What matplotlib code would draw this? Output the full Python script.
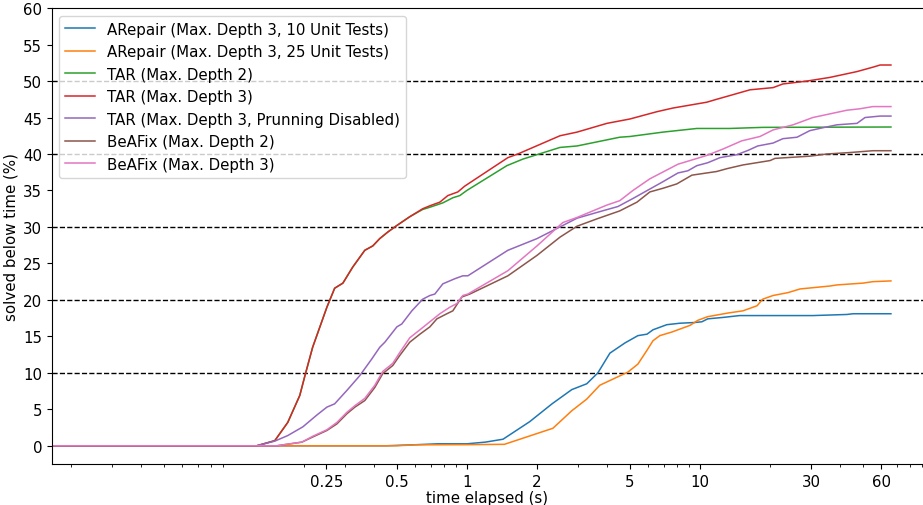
import numpy as np
import matplotlib.pyplot as plt

# time (s) / solved below time (%) for each configuration
x_start = 0.0166

arepair10_t = [x_start, 0.45, 0.6, 0.75, 1.0, 1.2, 1.43, 1.86, 2.32, 2.82, 3.27, 3.65, 4.11, 4.77,
               5.42, 5.93, 6.29, 7.21, 8.20, 9.52, 10.2, 10.8, 12.6, 14.8, 30.5, 42.7, 45.4, 54.7, 66]
arepair10_v = [0, 0, 0.14, 0.27, 0.27, 0.5, 0.9, 3.3, 5.75, 7.7, 8.5, 10.0, 12.7, 14.1,
               15.1, 15.3, 15.9, 16.6, 16.8, 16.9, 17.0, 17.4, 17.6, 17.85, 17.85, 18.0, 18.1, 18.1, 18.1]

arepair25_t = [x_start, 0.5, 0.6, 1.0, 1.45, 2.34, 2.82, 3.27, 3.72, 4.91, 5.42, 5.93, 6.29, 6.73,
               7.59, 8.37, 9.06, 9.80, 10.8, 13.2, 15.3, 17.6, 18.6, 20.6, 23.9, 26.9, 36.1, 38.7,
               50.1, 55.2, 66]
arepair25_v = [0, 0, 0.13, 0.15, 0.2, 2.4, 4.8, 6.4, 8.3, 10.1, 11.2, 13.1, 14.4, 15.1,
               15.6, 16.1, 16.5, 17.2, 17.7, 18.2, 18.5, 19.2, 20.1, 20.6, 21.0, 21.5, 21.9, 22.05,
               22.3, 22.5, 22.6]

tar2_t = [x_start, 0.1255, 0.150, 0.1705, 0.192, 0.202, 0.218, 0.251, 0.271, 0.294, 0.324, 0.365,
          0.395, 0.423, 0.458, 0.501, 0.569, 0.647, 0.694, 0.789, 0.871, 0.933, 1.0, 1.485, 1.739,
          2.51, 2.97, 4.53, 5.01, 6.94, 9.70, 13.4, 18.6, 66]
tar2_v = [0, 0, 0.7, 3.2, 6.9, 9.6, 13.5, 19.0, 21.6, 22.3, 24.5, 26.8,
          27.4, 28.4, 29.3, 30.2, 31.4, 32.4, 32.7, 33.3, 34.0, 34.3, 35.0, 38.4, 39.3,
          40.9, 41.1, 42.3, 42.4, 43.0, 43.5, 43.5, 43.65, 43.7]

tar3_t = [x_start, 0.1255, 0.150, 0.1705, 0.192, 0.202, 0.218, 0.251, 0.271, 0.294, 0.324, 0.365,
          0.395, 0.423, 0.458, 0.501, 0.569, 0.647, 0.694, 0.766, 0.829, 0.915, 0.98, 1.50, 1.655,
          2.51, 2.97, 3.99, 5.01, 6.54, 7.66, 10.7, 11.8, 13.4, 16.4, 20.6, 22.7, 28.8, 36.1,
          42.7, 47.2, 55.2, 59.3, 66]
tar3_v = [0, 0, 0.7, 3.2, 6.9, 9.6, 13.5, 19.0, 21.6, 22.3, 24.5, 26.8,
          27.4, 28.4, 29.3, 30.2, 31.4, 32.5, 32.9, 33.4, 34.3, 34.8, 35.6, 39.5, 40.0,
          42.5, 43.0, 44.2, 44.8, 45.8, 46.3, 47.1, 47.5, 48.0, 48.8, 49.1, 49.6, 50.0, 50.5,
          51.0, 51.3, 51.9, 52.2, 52.2]

tar3np_t = [x_start, 0.1255, 0.150, 0.1705, 0.198, 0.227, 0.251, 0.271, 0.306, 0.347, 0.391, 0.423,
            0.445, 0.501, 0.526, 0.581, 0.647, 0.694, 0.729, 0.789, 0.888, 0.961, 1.01, 1.50, 2.0,
            2.58, 2.97, 3.72, 4.45, 5.16, 6.10, 6.94, 8.05, 8.88, 9.70, 10.8, 12.2, 14.4, 16.1,
            17.7, 20.6, 22.7, 26.1, 29.6, 33.7, 38.7, 47.2, 51.1, 59.3, 66]
tar3np_v = [0, 0, 0.64, 1.4, 2.6, 4.2, 5.3, 5.75, 7.6, 9.6, 11.9, 13.5,
            14.2, 16.3, 16.7, 18.5, 20.1, 20.6, 20.8, 22.2, 22.9, 23.3, 23.3, 26.8, 28.4,
            30.2, 31.2, 32.1, 32.8, 33.9, 35.2, 36.2, 37.4, 37.7, 38.4, 38.8, 39.5, 39.9, 40.5,
            41.1, 41.5, 42.1, 42.3, 43.2, 43.6, 44.0, 44.2, 45.0, 45.2, 45.2]

beafix2_t = [x_start, 0.153, 0.196, 0.218, 0.251, 0.277, 0.306, 0.331, 0.365, 0.403, 0.436, 0.481,
             0.516, 0.569, 0.629, 0.694, 0.744, 0.821, 0.871, 0.952, 1.03, 1.50, 2.0, 2.51, 2.97,
             3.61, 4.53, 5.37, 6.10, 6.94, 7.96, 9.24, 11.8, 13.1, 15.3, 20.0, 21.0, 29.6, 35.1,
             44.0, 55.2, 66]
beafix2_v = [0, 0, 0.5, 1.2, 2.1, 3.0, 4.4, 5.3, 6.2, 8.0, 9.9, 11.0,
             12.4, 14.2, 15.3, 16.3, 17.4, 18.1, 18.5, 20.4, 20.8, 23.3, 26.1, 28.6, 30.1,
             31.1, 32.2, 33.4, 34.8, 35.3, 35.9, 37.1, 37.6, 38.0, 38.5, 39.1, 39.4, 39.7, 40.0,
             40.2, 40.45, 40.45]

beafix3_t = [x_start, 0.153, 0.196, 0.218, 0.251, 0.277, 0.306, 0.331, 0.365, 0.403, 0.436, 0.481,
             0.516, 0.569, 0.629, 0.694, 0.766, 0.846, 0.906, 0.961, 1.01, 1.50, 2.0, 2.58, 2.97,
             3.99, 4.53, 5.16, 6.10, 8.05, 10.7, 12.6, 15.1, 18.1, 20.6, 25.1, 30.5, 36.1, 42.7,
             48.6, 55.2, 66]
beafix3_v = [0, 0, 0.5, 1.3, 2.2, 3.2, 4.6, 5.5, 6.5, 8.3, 10.2, 11.3,
             12.8, 14.8, 15.9, 17.0, 18.1, 19.0, 19.5, 20.6, 20.8, 24.0, 27.4, 30.6, 31.3,
             33.0, 33.6, 35.0, 36.6, 38.6, 39.8, 40.7, 41.8, 42.4, 43.3, 44.0, 45.0, 45.5, 46.0,
             46.2, 46.5, 46.5]

labels = ['ARepair (Max. Depth 3, 10 Unit Tests)',
          'ARepair (Max. Depth 3, 25 Unit Tests)',
          'TAR (Max. Depth 2)',
          'TAR (Max. Depth 3)',
          'TAR (Max. Depth 3, Prunning Disabled)',
          'BeAFix (Max. Depth 2)',
          'BeAFix (Max. Depth 3)']

x_ticks = [0.25, 0.5, 1, 2, 5, 10, 30, 60]
x_ticklabels = ['0.25', '0.5', '1', '2', '5', '10', '30', '60']
y_ticks = list(range(0, 65, 5))
ref_levels = [10, 20, 30, 40, 50]

fig = plt.figure(figsize=(9.23, 5.06), dpi=100)
ax = fig.add_axes([0.0563, 0.081, 0.9437, 0.901])

for lvl in ref_levels:
    ax.axhline(lvl, color='black', linestyle='--', linewidth=1)

series = [(arepair10_t, arepair10_v), (arepair25_t, arepair25_v), (tar2_t, tar2_v),
          (tar3_t, tar3_v), (tar3np_t, tar3np_v), (beafix2_t, beafix2_v), (beafix3_t, beafix3_v)]
for (t, v), lab in zip(series, labels):
    ax.plot(t, v, linewidth=1.1, label=lab)

ax.set_xscale('log')
ax.set_xlim(x_start, 90.6)
ax.set_ylim(-2.5, 60)
ax.set_xticks(x_ticks)
ax.set_xticklabels(x_ticklabels)
ax.set_yticks(y_ticks)
ax.spines['right'].set_visible(False)
ax.tick_params(labelsize=10.8)

ax.set_xlabel('time elapsed (s)', fontsize=10.8, labelpad=1)
ax.set_ylabel('solved below time (%)', fontsize=10.8, labelpad=3)
ax.legend(loc='upper left', fontsize=10.8)

fig.savefig('out.png', dpi=100)
